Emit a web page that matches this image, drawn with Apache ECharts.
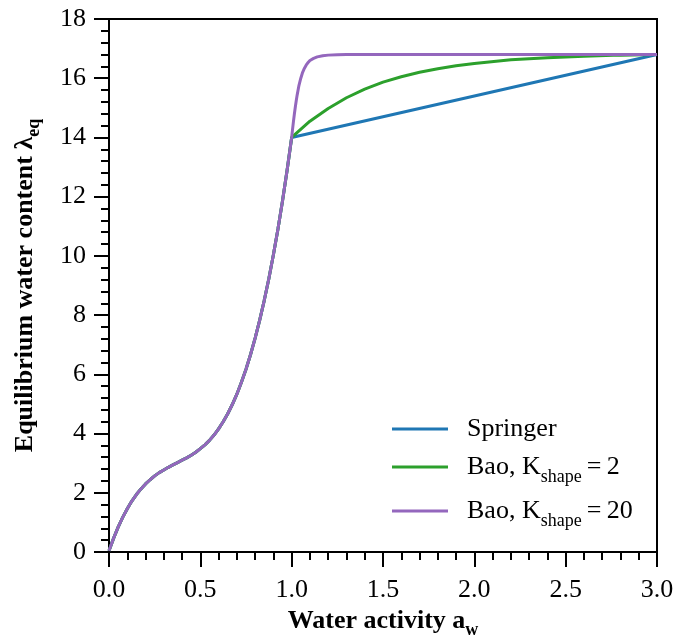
<!DOCTYPE html>
<html>
<head>
<meta charset="utf-8">
<script src="https://cdn.jsdelivr.net/npm/echarts@6/dist/echarts.min.js"></script>
<style>
  html, body { margin: 0; padding: 0; background: #fff; }
  #chart { width: 676px; height: 643px; }
</style>
</head>
<body>
<div id="chart"></div>
<script>
// shared isotherm below a_w = 1 (all three curves coincide there)
const awLow = [0, 0.025, 0.05, 0.075, 0.1, 0.125, 0.15, 0.175, 0.2, 0.225, 0.25, 0.275, 0.3, 0.325, 0.35, 0.375, 0.4, 0.425, 0.45, 0.475, 0.5,
  0.525, 0.55, 0.575, 0.6, 0.625, 0.65, 0.675, 0.7, 0.725, 0.75, 0.775, 0.8, 0.825, 0.85, 0.875, 0.9, 0.925, 0.95, 0.975, 1.0];
const lambdaLow = [0.04, 0.46, 0.84, 1.17, 1.46, 1.72, 1.94, 2.13, 2.30, 2.44, 2.57, 2.68, 2.77, 2.86, 2.94, 3.02, 3.10, 3.18, 3.27, 3.37, 3.49,
  3.62, 3.77, 3.95, 4.16, 4.40, 4.67, 4.98, 5.33, 5.73, 6.17, 6.67, 7.22, 7.83, 8.50, 9.23, 10.04, 10.91, 11.86, 12.89, 14.0];

// Springer above a_w = 1
const awSpringer = [1.0, 3.0];
const lambdaSpringer = [14.0, 16.8];

// Bao, K_shape = 2
const awBao2 = [1.0, 1.1, 1.2, 1.3, 1.4, 1.5, 1.6, 1.7, 1.8, 1.9, 2.0, 2.2, 2.4, 2.6, 2.8, 3.0];
const lambdaBao2 = [14.0, 14.55, 14.98, 15.34, 15.63, 15.87, 16.05, 16.2, 16.32, 16.42, 16.5, 16.62, 16.69, 16.74, 16.78, 16.8];

// Bao, K_shape = 20
const awBao20 = [1.0, 1.005, 1.01, 1.015, 1.02, 1.025, 1.03, 1.04, 1.05, 1.06, 1.07, 1.08, 1.09, 1.1, 1.12, 1.14, 1.17, 1.2, 1.25, 1.3, 3.0];
const lambdaBao20 = [14.0, 14.28, 14.55, 14.8, 15.03, 15.24, 15.43, 15.76, 16.0, 16.2, 16.34, 16.45, 16.53, 16.6, 16.67, 16.72, 16.76, 16.78, 16.795, 16.8, 16.8];

const seriesNames = ['Springer', 'Bao2', 'Bao20'];
const legendLabels = {
  Springer: '{t|Springer}',
  Bao2: '{t|Bao, K}{s|shape}{t|\u2009=\u20092}',
  Bao20: '{t|Bao, K}{s|shape}{t|\u2009=\u200920}',
};
const colors = ['#1f77b4', '#2ca02c', '#9467bd'];

const zip = (xs, ys) => xs.map((x, i) => [x, ys[i]]);
const lowPart = zip(awLow, lambdaLow);
const curves = [
  lowPart.concat(zip(awSpringer, lambdaSpringer).slice(1)),
  lowPart.concat(zip(awBao2, lambdaBao2).slice(1)),
  lowPart.concat(zip(awBao20, lambdaBao20).slice(1)),
];

const FONT = 'Liberation Serif';
const FS = 26;
const SUB = 18;
const chart = echarts.init(document.getElementById('chart'));

chart.setOption({
  animation: false,
  backgroundColor: '#fff',
  grid: {
    left: 109, right: 19, top: 19, bottom: 91,
    show: true, borderColor: '#000', borderWidth: 2,
    containLabel: false, outerBoundsMode: 'none',
  },
  legend: {
    orient: 'vertical',
    left: 392,
    top: 416,
    padding: 0,
    icon: 'rect',
    itemWidth: 56,
    itemHeight: 3,
    itemGap: 12,
    data: seriesNames,
    formatter: (name) => legendLabels[name],
    textStyle: {
      padding: [0, 0, 0, 14],
      rich: {
        t: { fontFamily: FONT, fontSize: FS, color: '#000', lineHeight: 32 },
        s: { fontFamily: FONT, fontSize: SUB, color: '#000', lineHeight: 38, verticalAlign: 'bottom' },
      },
    },
  },
  xAxis: {
    type: 'value',
    min: 0, max: 3, interval: 0.5,
    name: '{b|Water activity a}{bs|w}',
    nameLocation: 'middle',
    nameGap: 50,
    nameTextStyle: {
      rich: {
        b: { fontFamily: FONT, fontSize: FS, fontWeight: 'bold', color: '#000', lineHeight: 30 },
        bs: { fontFamily: FONT, fontSize: SUB, fontWeight: 'bold', color: '#000', lineHeight: 36, verticalAlign: 'bottom' },
      },
    },
    axisLine: { show: true, lineStyle: { color: '#000', width: 2 } },
    axisTick: { show: true, length: 15, lineStyle: { color: '#000', width: 2 } },
    minorTick: { show: true, splitNumber: 5, length: 8, lineStyle: { color: '#000', width: 2 } },
    axisLabel: { margin: 25, fontFamily: FONT, fontSize: FS, color: '#000', formatter: (v) => v.toFixed(1) },
    splitLine: { show: false },
  },
  yAxis: {
    type: 'value',
    min: 0, max: 18, interval: 2,
    name: '{b|Equilibrium water content λ}{bs|eq}',
    nameLocation: 'middle',
    nameGap: 66,
    nameTextStyle: {
      rich: {
        b: { fontFamily: FONT, fontSize: FS, fontWeight: 'bold', color: '#000', lineHeight: 30 },
        bs: { fontFamily: FONT, fontSize: SUB, fontWeight: 'bold', color: '#000', lineHeight: 36, verticalAlign: 'bottom' },
      },
    },
    axisLine: { show: true, lineStyle: { color: '#000', width: 2 } },
    axisTick: { show: true, length: 15, lineStyle: { color: '#000', width: 2 } },
    minorTick: { show: true, splitNumber: 5, length: 8, lineStyle: { color: '#000', width: 2 } },
    axisLabel: { margin: 23, fontFamily: FONT, fontSize: FS, color: '#000' },
    splitLine: { show: false },
  },
  series: seriesNames.map((name, i) => ({
    name,
    type: 'line',
    data: curves[i],
    showSymbol: false,
    symbol: 'none',
    color: colors[i],
    lineStyle: { color: colors[i], width: 3 },
    z: 2 + i,
  })),
});
</script>
</body>
</html>
